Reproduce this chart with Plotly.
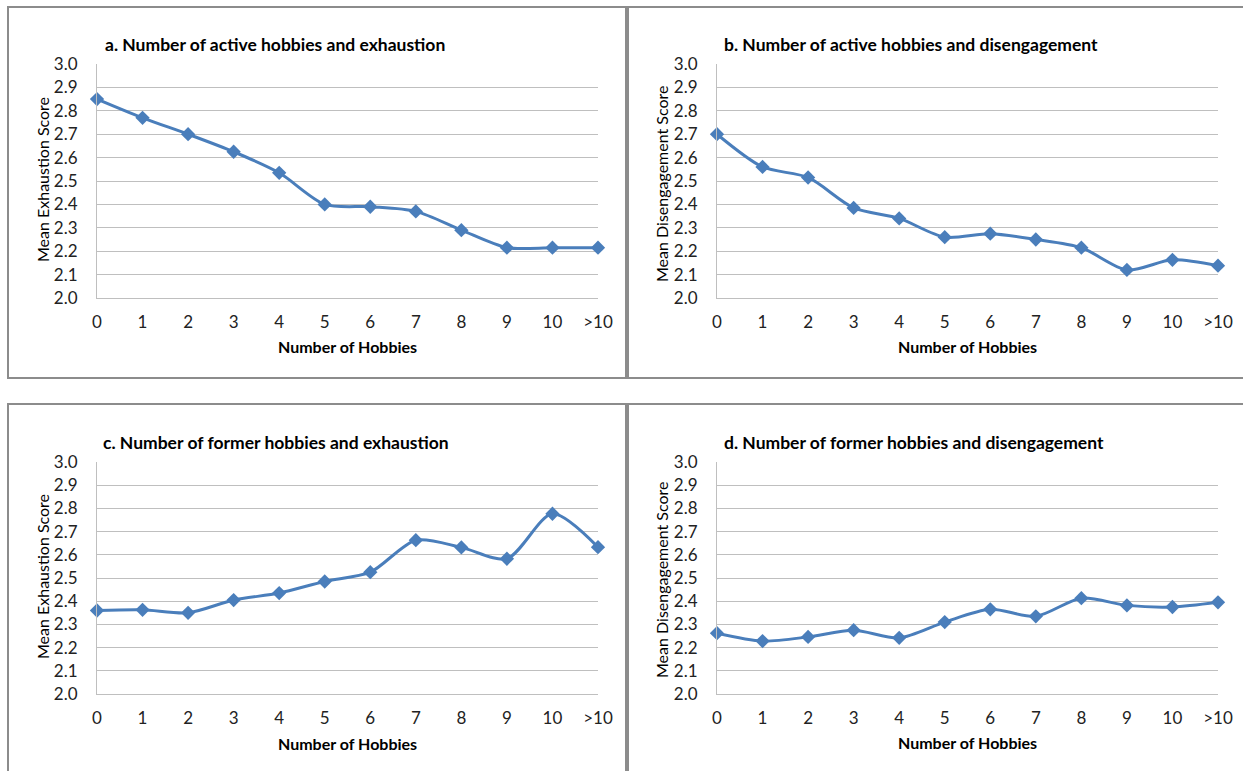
import plotly.graph_objects as go

W, H = 1243, 771
categories = ["0", "1", "2", "3", "4", "5", "6", "7", "8", "9", "10", ">10"]
active_exhaustion = [2.85, 2.77, 2.70, 2.625, 2.535, 2.40, 2.39, 2.37, 2.29, 2.215, 2.215, 2.215]
active_disengagement = [2.70, 2.56, 2.515, 2.385, 2.34, 2.26, 2.275, 2.25, 2.215, 2.12, 2.163, 2.138]
former_exhaustion = [2.36, 2.363, 2.35, 2.405, 2.435, 2.485, 2.525, 2.663, 2.632, 2.583, 2.777, 2.633]
former_disengagement = [2.262, 2.228, 2.246, 2.275, 2.242, 2.31, 2.365, 2.335, 2.413, 2.382, 2.375, 2.395]
y_ticks = [2.0, 2.1, 2.2, 2.3, 2.4, 2.5, 2.6, 2.7, 2.8, 2.9, 3.0]
titles = ["a. Number of active hobbies and exhaustion",
          "b. Number of active hobbies and disengagement",
          "c. Number of former hobbies and exhaustion",
          "d. Number of former hobbies and disengagement"]
y_titles = ["Mean Exhaustion Score", "Mean Disengagement Score",
            "Mean Exhaustion Score", "Mean Disengagement Score"]
x_title = "Number of Hobbies"
series = [active_exhaustion, active_disengagement, former_exhaustion, former_disengagement]

FONT = "Lato"
BLUE = "#4A7EBB"
GRID = "#BFBFBF"

def px(x):
    return x / W

def py(y):
    return 1 - y / H

# plot areas in pixels: (left, right, top, bottom)
areas = [(97, 598, 64, 298), (717, 1218, 64, 298), (97, 598, 462, 694), (717, 1218, 462, 694)]
title_pos = [(103, 44), (722, 44), (101, 443), (722, 443)]
ytitle_pos = [(42, 179), (661, 184), (42, 576), (661, 580)]
xtitle_pos = [347, 347, 743, 742]

fig = go.Figure()
xs = list(range(len(categories)))
annotations = []
for i in range(4):
    sfx = "" if i == 0 else str(i + 1)
    fig.add_trace(go.Scatter(
        x=xs, y=series[i], mode="lines+markers",
        line=dict(color=BLUE, width=3, shape="spline", smoothing=0.8),
        marker=dict(symbol="diamond", size=11, color=BLUE),
        cliponaxis=False, showlegend=False,
        xaxis="x" + sfx, yaxis="y" + sfx))
    l, r, t, b = areas[i]
    fig.layout["xaxis" + sfx] = dict(
        domain=[px(l), px(r)], anchor="y" + sfx, range=[0, 11],
        tickvals=xs, ticktext=categories, showgrid=False, zeroline=False,
        showline=True, linecolor=GRID, linewidth=1, automargin=False,
        ticks="outside", ticklen=9, tickcolor="rgba(0,0,0,0)",
        tickfont=dict(family=FONT, size=17, color="#222"))
    fig.layout["yaxis" + sfx] = dict(
        domain=[py(b), py(t)], anchor="x" + sfx, range=[2.0, 3.0],
        tickvals=y_ticks, ticktext=[f"{v:.1f}" for v in y_ticks],
        showgrid=True, gridcolor=GRID, gridwidth=1, zeroline=False,
        showline=True, linecolor=GRID, linewidth=1, automargin=False,
        ticks="outside", ticklen=15, tickcolor="rgba(0,0,0,0)",
        tickfont=dict(family=FONT, size=17, color="#222"))
    tx, ty = title_pos[i]
    annotations.append(dict(x=px(tx), y=py(ty), xref="paper", yref="paper",
                            xanchor="left", yanchor="middle", showarrow=False,
                            text="<b>" + titles[i] + "</b>",
                            font=dict(family=FONT, size=17.5, color="#000")))
    yx, yy = ytitle_pos[i]
    annotations.append(dict(x=px(yx), y=py(yy), xref="paper", yref="paper",
                            xanchor="center", yanchor="middle", showarrow=False,
                            textangle=-90, text=y_titles[i],
                            font=dict(family=FONT, size=16, color="#000")))
    annotations.append(dict(x=px((l + r) / 2), y=py(xtitle_pos[i]), xref="paper", yref="paper",
                            xanchor="center", yanchor="middle", showarrow=False,
                            text="<b>" + x_title + "</b>",
                            font=dict(family=FONT, size=16, color="#000")))

BORDER = "#8C8C8C"
boxes = [(8, 626, 7, 378), (628, 1250, 7, 378), (8, 626, 404, 780), (628, 1250, 404, 780)]
shapes = [dict(type="rect", xref="paper", yref="paper",
               x0=px(x0), x1=px(x1), y0=py(y1), y1=py(y0),
               line=dict(color=BORDER, width=2), layer="below")
          for (x0, x1, y0, y1) in boxes]

fig.update_layout(width=W, height=H, margin=dict(l=0, r=0, t=0, b=0),
                  template="none", hovermode=False,
                  paper_bgcolor="white", plot_bgcolor="white",
                  annotations=annotations, shapes=shapes,
                  font=dict(family=FONT))
fig.write_html("out.html", config={"displayModeBar": False},
               post_script="document.body.style.margin='0px';document.body.style.overflow='hidden';")
